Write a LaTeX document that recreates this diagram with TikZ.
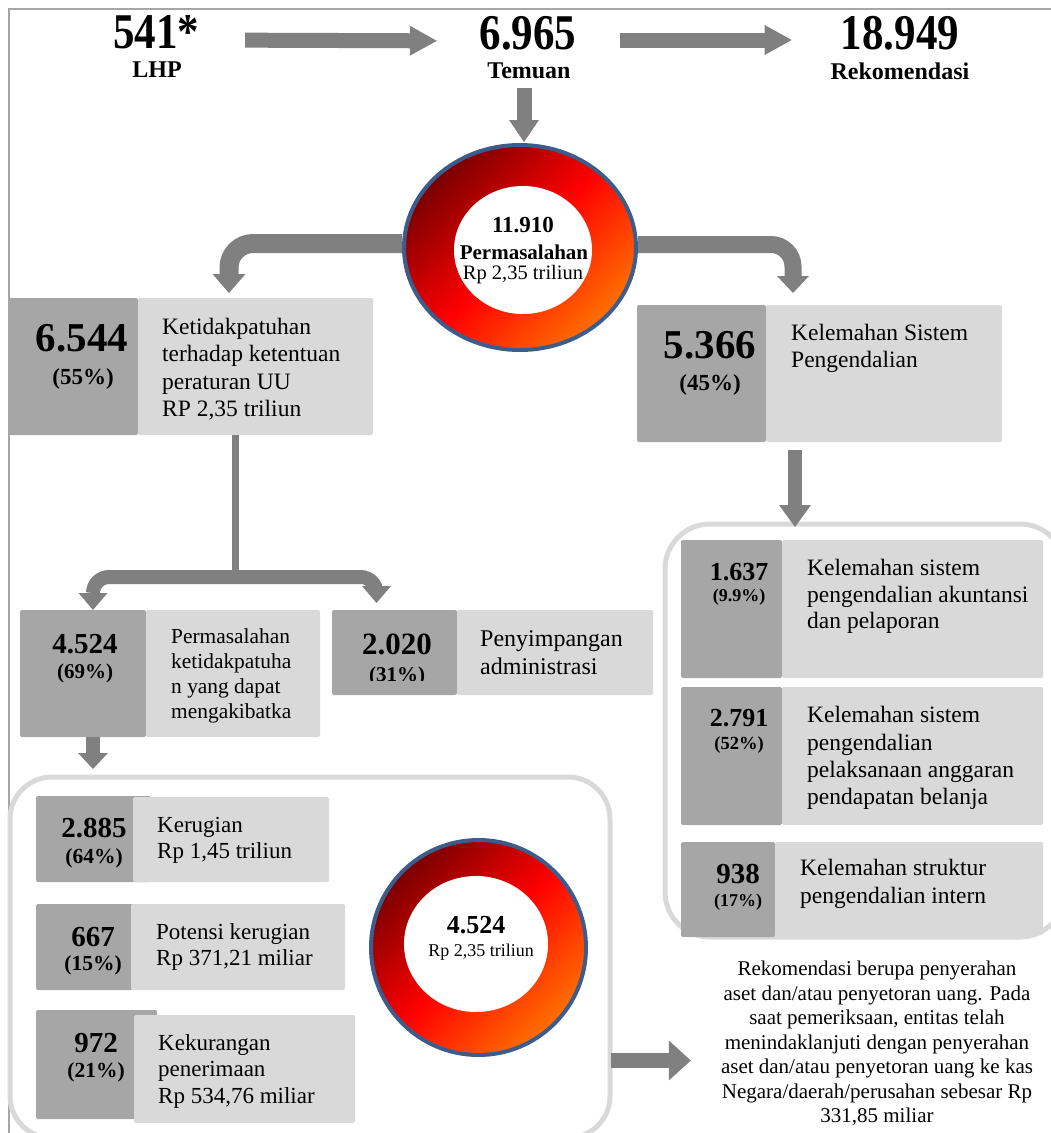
\documentclass[tikz,border=0pt]{standalone}
\usepackage{fontspec}
\setmainfont{Liberation Serif}
\usepackage{graphicx}
\usetikzlibrary{arrows.meta,shapes.geometric,positioning}

\definecolor{arrowgray}{HTML}{808080}
\definecolor{boxdark}{HTML}{A6A6A6}
\definecolor{boxlight}{HTML}{D9D9D9}
\definecolor{framegray}{HTML}{A6A6A6}
\definecolor{groupgray}{HTML}{D9D9D9}
\definecolor{ringblue}{HTML}{3C5D8C}
\definecolor{ringdark}{HTML}{7A0000}
\definecolor{ringorange}{HTML}{FF7000}

\begin{document}
\begin{tikzpicture}[x=1pt, y=-1pt,
    darkbox/.style={fill=boxdark, rounded corners=2pt, anchor=north west, inner sep=0pt, outer sep=0pt},
    lightbox/.style={fill=boxlight, rounded corners=2pt, anchor=north west, inner sep=0pt, outer sep=0pt},
    groupframe/.style={draw=groupgray, line width=5pt, rounded corners=#1, anchor=north west, inner sep=0pt, outer sep=0pt},
    num/.style={font=\bfseries\fontsize{#1}{#1}\selectfont, inner sep=0pt},
    desc/.style 2 args={font=\fontsize{#1}{#2}\selectfont, align=left, anchor=west, inner sep=0pt},
    ring/.style={ellipse, draw=ringblue, line width=4pt, top color=ringdark, bottom color=ringorange, middle color=red, shading angle=45, inner sep=0pt},
    hole/.style={ellipse, fill=white, inner sep=0pt},
    fatarrow/.style n args={3}{draw=arrowgray, line width=#1, -{Triangle[width=#2, length=#3, line width=0pt]}},
]

    % Frame
    \useasboundingbox (0,0) rectangle (1051,1133);
    \draw[framegray, line width=1.5pt] (9,1133) -- (9,9) -- (1051,9);

    % Top row
    \node[num=50] (n541) at (156,32) {\scalebox{0.86}[1]{541*}};
    \node[num=24] (lhp) at (157,70) {LHP};
    \node[num=50] (n6965) at (528,33) {\scalebox{0.86}[1]{6.965}};
    \node[num=24] (tem) at (529,71) {Temuan};
    \node[num=50] (n18949) at (900,33) {\scalebox{0.86}[1]{18.949}};
    \node[num=24] (rek) at (900,71) {Rekomendasi};

    % Group frames
    \node[groupframe=42pt, minimum width=600pt, minimum height=361pt] (grpa) at (10,777) {};
    \node[groupframe=45pt, minimum width=400pt, minimum height=413pt] (grpb) at (665,524) {};

    % Ketidakpatuhan
    \node[darkbox, minimum width=130pt, minimum height=137pt] (k1box) at (8,298) {};
    \node[lightbox, minimum width=235pt, minimum height=137pt] (k1txt) at (138,298) {};
    \node[num=41] (k1num) at (82,338) {6.544};
    \node[num=23] (k1pct) at (83,379) {(55\%)};
    \node[desc={23.5}{27.5}] (k1desc) at (162,369)
        {Ketidakpatuhan\\terhadap ketentuan\\peraturan UU\\RP 2,35 triliun};

    % Kelemahan SPI
    \node[darkbox, minimum width=129pt, minimum height=137pt] (k2box) at (637,305) {};
    \node[lightbox, minimum width=236pt, minimum height=137pt] (k2txt) at (766,305) {};
    \node[num=41] (k2num) at (710,345) {5.366};
    \node[num=23] (k2pct) at (710,385) {(45\%)};
    \node[desc={23.5}{27.5}] (k2desc) at (791,348.5) {Kelemahan Sistem\\Pengendalian};

    % Split of 6.544
    \node[darkbox, minimum width=126pt, minimum height=127pt] (k3box) at (20,610) {};
    \node[lightbox, minimum width=174pt, minimum height=127pt] (k3txt) at (146,610) {};
    \node[num=29] (k3num) at (85,644) {4.524};
    \node[num=21] (k3pct) at (85,673) {(69\%)};
    \node[desc={21.4}{25}] (k3desc) at (171,675.5)
        {Permasalahan\\ketidakpatuha\\n yang dapat\\mengakibatka};

    \node[darkbox, minimum width=125pt, minimum height=85pt] (k4box) at (332,610) {};
    \node[lightbox, minimum width=196pt, minimum height=85pt] (k4txt) at (457,610) {};
    \node[num=31] (k4num) at (397,644) {2.020};
    \begin{scope}
        \clip (332,610) rectangle (457,680);
        \node[num=21] (k4pct) at (397,676) {(31\%)};
    \end{scope}
    \node[desc={24}{28}] (k4desc) at (480,653) {Penyimpangan\\administrasi};

    % Kerugian, potensi, kekurangan
    \node[darkbox, minimum width=115pt, minimum height=86pt] (kabox) at (36,796) {};
    \node[lightbox, minimum width=196pt, minimum height=85pt] (katxt) at (133,797) {};
    \node[num=29] (kanum) at (94,828) {2.885};
    \node[num=21.5] (kapct) at (94,858) {(64\%)};
    \node[desc={23}{26}] (kadesc) at (157,840) {Kerugian\\Rp 1,45 triliun};

    \node[darkbox, minimum width=97pt, minimum height=86pt] (kbbox) at (36,904) {};
    \node[lightbox, minimum width=214pt, minimum height=86pt] (kbtxt) at (131,904) {};
    \node[num=29] (kbnum) at (93,937) {667};
    \node[num=21.5] (kbpct) at (93,965) {(15\%)};
    \node[desc={23}{26}] (kbdesc) at (156,947) {Potensi kerugian\\Rp 371,21 miliar};

    \node[darkbox, minimum width=121pt, minimum height=109pt] (kcbox) at (36,1010) {};
    \node[lightbox, minimum width=221pt, minimum height=108pt] (kctxt) at (134,1015) {};
    \node[num=29] (kcnum) at (96,1043) {972};
    \node[num=21.5] (kcpct) at (96,1072) {(21\%)};
    \node[desc={23}{26.5}] (kcdesc) at (158,1071)
        {Kekurangan\\penerimaan\\Rp 534,76 miliar};

    % Kelemahan sistem parts
    \node[darkbox, minimum width=101pt, minimum height=138pt] (s1box) at (681,540) {};
    \node[lightbox, minimum width=261pt, minimum height=138pt] (s1txt) at (782,540) {};
    \node[num=26] (s1num) at (739,572) {1.637};
    \node[num=18] (s1pct) at (739,597) {(9.9\%)};
    \node[desc={23.5}{26.5}] (s1desc) at (807,596.5)
        {Kelemahan sistem\\pengendalian akuntansi\\dan pelaporan};

    \node[darkbox, minimum width=101pt, minimum height=138pt] (s2box) at (681,687) {};
    \node[lightbox, minimum width=261pt, minimum height=138pt] (s2txt) at (782,687) {};
    \node[num=26] (s2num) at (739,718) {2.791};
    \node[num=18.5] (s2pct) at (739,745) {(52\%)};
    \node[desc={23.5}{27.3}] (s2desc) at (807,758)
        {Kelemahan sistem\\pengendalian\\pelaksanaan anggaran\\pendapatan belanja};

    \node[darkbox, minimum width=94pt, minimum height=95pt] (s3box) at (681,842) {};
    \node[lightbox, minimum width=268pt, minimum height=93pt] (s3txt) at (775,842) {};
    \node[num=29] (s3num) at (738,874) {938};
    \node[num=18] (s3pct) at (738,902) {(17\%)};
    \node[desc={23.5}{28}] (s3desc) at (800,884)
        {Kelemahan struktur\\pengendalian intern};

    % Rings
    \node[ring, minimum width=232pt, minimum height=205pt] (ringa) at (520,247.5) {};
    \node[hole, minimum width=138pt, minimum height=128pt] (holea) at (523,250) {};
    \node[num=23] (r1num) at (523,225) {11.910};
    \node[num=21] (r1lab) at (524,252) {Permasalahan};
    \node[font=\fontsize{20.5}{24}\selectfont, inner sep=0pt] (r1val) at (523,275) {Rp 2,35 triliun};

    \node[ring, minimum width=215pt, minimum height=215pt] (ringb) at (478.5,947.5) {};
    \node[hole, minimum width=144pt, minimum height=136pt] (holeb) at (476,944) {};
    \node[num=26] (r2num) at (476,925) {4.524};
    \node[font=\fontsize{18}{22}\selectfont, inner sep=0pt] (r2val) at (481,952) {Rp 2,35 triliun};

    % Note
    \node[align=center, font=\fontsize{21}{24.5}\selectfont, inner sep=0pt] (note) at (877,1043.5)
        {Rekomendasi berupa penyerahan\\aset dan/atau penyetoran uang. Pada\\saat pemeriksaan, entitas telah\\menindaklanjuti dengan penyerahan\\aset dan/atau penyetoran uang ke kas\\Negara/daerah/perusahan sebesar Rp\\331,85 miliar};

    % Arrows
    \draw[fatarrow={15pt}{30pt}{27pt}, shorten <=46pt, shorten >=42.6pt]
        ([yshift=-8pt]n541.east) -- ([yshift=-8pt]n6965.west);
    \draw[fatarrow={15pt}{30pt}{27pt}, shorten <=43.6pt, shorten >=49pt]
        ([yshift=-7pt]n6965.east) -- ([yshift=-7pt]n18949.west);
    \draw[fatarrow={15pt}{30pt}{22pt}, shorten <=9pt, shorten >=1pt]
        ([xshift=4pt]ringa.north |- tem.south) -- ([xshift=4pt]ringa.north);

    \draw[fatarrow={19pt}{33pt}{19pt}, rounded corners=24pt, shorten >=5pt]
        ([yshift=4pt]ringa.west) -| ([xshift=91pt]k1txt.north west);
    \draw[fatarrow={17pt}{32pt}{17pt}, rounded corners=22pt, shorten >=12pt]
        ([yshift=3pt]ringa.east) -| ([xshift=27pt]k2txt.north west);

    \coordinate (fork) at (235,577);
    \draw[arrowgray, line width=7pt] (fork |- k1txt.south) -- (fork);
    \draw[fatarrow={14pt}{29pt}{17pt}, rounded corners=16pt]
        (fork) -| ([xshift=10pt]k3box.north);
    \draw[fatarrow={14pt}{29pt}{17pt}, rounded corners=16pt, shorten >=7pt]
        (fork) -| ([xshift=-18pt]k4box.north);

    \draw[fatarrow={14pt}{30pt}{16pt}, shorten >=8pt]
        ([xshift=10pt]k3box.south) -- ([xshift=10pt]k3box.south |- grpa.north);
    \draw[fatarrow={14pt}{32pt}{22pt}, shorten <=8pt, shorten >=-3pt]
        ([xshift=29pt]k2txt.south west) -- ([xshift=29pt]k2txt.south west |- grpb.north);
    \draw[fatarrow={15pt}{40pt}{22pt}, shorten <=1pt, shorten >=30pt]
        ([yshift=-103pt]grpa.east) -- ([yshift=-103pt]grpa.east -| note.west);

\end{tikzpicture}
\end{document}
